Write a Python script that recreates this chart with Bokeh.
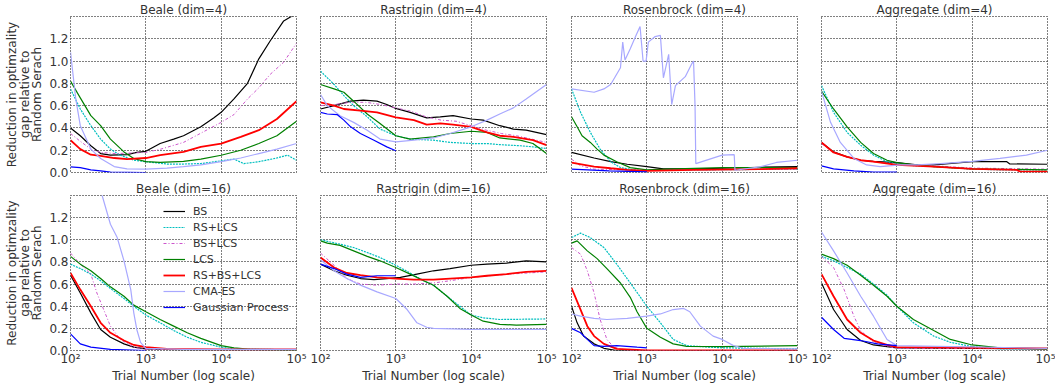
from bokeh.plotting import figure
from bokeh.layouts import column, row
from bokeh.models import FixedTicker, Legend, LegendItem, Range1d, PrintfTickFormatter
from bokeh.embed import file_html
from bokeh.resources import INLINE

# ---------------- data (x given as log10 of trial number) ----------------
SERIES = ["BS", "RS+LCS", "BS+LCS", "LCS", "RS+BS+LCS", "CMA-ES", "Gaussian Process"]
XTICKS = [100, 1000, 10000, 100000]
XTICK_LABELS = ["10²", "10³", "10⁴", "10⁵"]
YTICKS = [0.0, 0.2, 0.4, 0.6, 0.8, 1.0, 1.2]
TITLES = ["Beale (dim=4)", "Rastrigin (dim=4)", "Rosenbrock (dim=4)", "Aggregate (dim=4)",
          "Beale (dim=16)", "Rastrigin (dim=16)", "Rosenbrock (dim=16)", "Aggregate (dim=16)"]

beale4 = {
    "BS": ([2.0, 2.13, 2.27, 2.4, 2.53, 2.75, 2.88, 3.0, 3.19, 3.37, 3.5, 3.73, 3.9, 4.0, 4.17, 4.35, 4.5, 4.65, 4.83, 4.93, 5.0],
           [0.40, 0.33, 0.24, 0.17, 0.156, 0.16, 0.18, 0.19, 0.26, 0.30, 0.33, 0.41, 0.49, 0.54, 0.66, 0.80, 1.02, 1.18, 1.36, 1.40, 1.42]),
    "RS+LCS": ([2.0, 2.13, 2.27, 2.4, 2.53, 2.66, 2.84, 3.0, 3.28, 3.5, 3.73, 4.0, 4.17, 4.3, 4.5, 4.74, 4.88, 5.0],
               [0.75, 0.57, 0.42, 0.30, 0.21, 0.156, 0.11, 0.097, 0.076, 0.076, 0.08, 0.105, 0.12, 0.08, 0.097, 0.13, 0.156, 0.11]),
    "BS+LCS": ([2.0, 2.13, 2.27, 2.4, 2.6, 2.8, 3.0, 3.2, 3.5, 3.75, 4.0, 4.17, 4.35, 4.5, 4.65, 4.83, 5.0],
               [0.35, 0.28, 0.21, 0.18, 0.17, 0.175, 0.18, 0.21, 0.27, 0.36, 0.45, 0.52, 0.66, 0.76, 0.88, 0.99, 1.16]),
    "LCS": ([2.0, 2.13, 2.27, 2.4, 2.53, 2.71, 2.84, 3.0, 3.19, 3.5, 3.73, 4.0, 4.26, 4.5, 4.74, 5.0],
            [0.82, 0.67, 0.51, 0.42, 0.30, 0.185, 0.126, 0.097, 0.09, 0.10, 0.12, 0.155, 0.20, 0.26, 0.33, 0.46]),
    "RS+BS+LCS": ([2.0, 2.13, 2.27, 2.4, 2.58, 2.75, 3.0, 3.19, 3.5, 3.73, 4.0, 4.26, 4.5, 4.74, 5.0],
                  [0.29, 0.21, 0.16, 0.15, 0.13, 0.12, 0.13, 0.155, 0.185, 0.23, 0.26, 0.32, 0.38, 0.48, 0.64]),
    "CMA-ES": ([2.0, 2.07, 2.13, 2.27, 2.4, 2.58, 2.75, 3.0, 3.28, 3.5, 3.73, 4.0, 4.26, 4.5, 4.74, 5.0],
               [1.08, 0.66, 0.42, 0.21, 0.126, 0.053, 0.032, 0.03, 0.04, 0.053, 0.068, 0.097, 0.13, 0.17, 0.21, 0.26]),
    "Gaussian Process": ([2.0, 2.13, 2.27, 2.4, 2.53, 3.0],
                         [0.05, 0.044, 0.024, 0.015, 0.003, 0.0]),
}

rastrigin4 = {
    "BS": ([2.0, 2.18, 2.4, 2.57, 2.75, 2.88, 3.0, 3.19, 3.41, 3.59, 3.76, 4.0, 4.16, 4.38, 4.56, 4.73, 5.0],
           [0.57, 0.60, 0.64, 0.65, 0.64, 0.61, 0.575, 0.54, 0.49, 0.50, 0.51, 0.48, 0.47, 0.42, 0.39, 0.38, 0.34]),
    "RS+LCS": ([2.0, 2.18, 2.31, 2.44, 2.62, 2.79, 3.0, 3.19, 3.5, 3.72, 4.0, 4.21, 4.38, 4.65, 4.82, 5.0],
               [0.91, 0.79, 0.69, 0.60, 0.50, 0.39, 0.33, 0.30, 0.29, 0.27, 0.26, 0.26, 0.25, 0.24, 0.23, 0.215]),
    "BS+LCS": ([2.0, 2.18, 2.4, 2.6, 2.8, 3.0, 3.2, 3.4, 3.6, 3.8, 4.0, 4.2, 4.4, 4.6, 4.8, 5.0],
               [0.60, 0.61, 0.63, 0.63, 0.61, 0.58, 0.55, 0.50, 0.47, 0.46, 0.42, 0.38, 0.35, 0.33, 0.30, 0.27]),
    "LCS": ([2.0, 2.18, 2.31, 2.44, 2.62, 2.79, 3.0, 3.19, 3.5, 3.72, 4.0, 4.21, 4.38, 4.65, 4.82, 5.0],
            [0.79, 0.75, 0.72, 0.64, 0.525, 0.44, 0.33, 0.30, 0.32, 0.35, 0.37, 0.36, 0.31, 0.29, 0.26, 0.17]),
    "RS+BS+LCS": ([2.0, 2.18, 2.31, 2.53, 2.75, 3.0, 3.24, 3.41, 3.59, 3.76, 4.0, 4.21, 4.38, 4.56, 4.82, 5.0],
                  [0.63, 0.60, 0.57, 0.555, 0.54, 0.495, 0.47, 0.43, 0.44, 0.43, 0.41, 0.36, 0.33, 0.32, 0.29, 0.245]),
    "CMA-ES": ([2.0, 2.09, 2.26, 2.44, 2.62, 2.79, 3.0, 3.24, 3.5, 3.72, 4.0, 4.21, 4.38, 4.56, 4.73, 5.0],
               [0.70, 0.60, 0.51, 0.45, 0.38, 0.30, 0.275, 0.29, 0.31, 0.35, 0.41, 0.47, 0.525, 0.58, 0.66, 0.79]),
    "Gaussian Process": ([2.0, 2.09, 2.22, 2.31, 2.4, 2.53, 2.71, 2.88, 3.0],
                         [0.54, 0.525, 0.52, 0.47, 0.41, 0.35, 0.29, 0.23, 0.195]),
}

rosenbrock4 = {
    "BS": ([2.0, 2.3, 2.52, 2.74, 3.0, 3.22, 3.62, 4.0, 4.5, 5.0],
           [0.18, 0.13, 0.097, 0.074, 0.053, 0.032, 0.032, 0.038, 0.047, 0.053]),
    "RS+LCS": ([2.0, 2.12, 2.25, 2.38, 2.52, 2.65, 2.82, 3.0, 4.0, 5.0],
               [0.75, 0.54, 0.36, 0.21, 0.097, 0.044, 0.024, 0.018, 0.025, 0.03]),
    "BS+LCS": ([2.0, 2.12, 2.3, 3.0, 4.0, 5.0],
               [0.12, 0.06, 0.03, 0.02, 0.025, 0.03]),
    "LCS": ([2.0, 2.075, 2.14, 2.25, 2.34, 2.43, 2.6, 2.78, 3.0, 3.27, 4.0, 5.0],
            [0.50, 0.41, 0.33, 0.27, 0.21, 0.156, 0.097, 0.044, 0.024, 0.03, 0.044, 0.044]),
    "RS+BS+LCS": ([2.0, 2.3, 2.52, 2.74, 3.0, 3.62, 4.5, 5.0],
                  [0.088, 0.053, 0.038, 0.024, 0.015, 0.024, 0.03, 0.038]),
    "CMA-ES": ([2.0, 2.3, 2.43, 2.52, 2.65, 2.68, 2.71, 2.78, 2.85, 2.91, 2.95, 2.99, 3.02, 3.11, 3.18, 3.22,
                3.29, 3.33, 3.38, 3.51, 3.6, 3.62, 3.64, 3.65, 4.0, 4.16, 4.17, 4.5, 4.72, 5.0],
               [0.75, 0.72, 0.75, 0.79, 0.94, 1.17, 1.01, 1.11, 1.22, 1.31, 1.0, 1.0, 1.17, 1.22, 1.23, 0.85,
                1.06, 0.61, 0.78, 0.86, 0.98, 1.0, 0.60, 0.08, 0.156, 0.16, 0.02, 0.05, 0.09, 0.11]),
    "Gaussian Process": ([2.0, 2.5, 3.0],
                         [0.03, 0.015, 0.005]),
}

aggregate4 = {
    "BS": ([2.0, 2.16, 2.34, 2.52, 2.69, 3.0, 3.27, 3.49, 4.0, 4.46, 4.5, 5.0],
           [0.27, 0.185, 0.14, 0.11, 0.10, 0.088, 0.068, 0.068, 0.097, 0.097, 0.077, 0.074]),
    "RS+LCS": ([2.0, 2.16, 2.34, 2.52, 2.69, 2.87, 3.0, 3.22, 3.49, 3.71, 4.0, 4.37, 5.0],
               [0.78, 0.54, 0.36, 0.245, 0.156, 0.097, 0.077, 0.062, 0.053, 0.044, 0.03, 0.024, 0.024]),
    "BS+LCS": ([2.0, 2.16, 2.34, 2.52, 2.69, 3.0, 3.5, 4.0, 4.5, 5.0],
               [0.26, 0.18, 0.14, 0.11, 0.095, 0.075, 0.06, 0.04, 0.035, 0.03]),
    "LCS": ([2.0, 2.16, 2.34, 2.52, 2.69, 2.87, 3.0, 3.22, 3.49, 4.0, 5.0],
            [0.73, 0.57, 0.41, 0.27, 0.17, 0.11, 0.088, 0.068, 0.053, 0.032, 0.024]),
    "RS+BS+LCS": ([2.0, 2.16, 2.34, 2.52, 2.69, 3.0, 3.49, 4.0, 4.59, 4.64, 5.0],
                  [0.27, 0.18, 0.14, 0.11, 0.097, 0.068, 0.053, 0.032, 0.024, 0.008, 0.008]),
    "CMA-ES": ([2.0, 2.12, 2.25, 2.43, 2.6, 2.78, 3.05, 3.27, 3.58, 4.0, 4.37, 4.72, 5.0],
               [0.73, 0.45, 0.27, 0.126, 0.068, 0.053, 0.068, 0.068, 0.08, 0.10, 0.126, 0.156, 0.20]),
    "Gaussian Process": ([2.0, 2.16, 2.43, 2.69, 3.0],
                         [0.06, 0.032, 0.015, 0.003, 0.003]),
}

beale16 = {
    "BS": ([2.0, 2.13, 2.27, 2.4, 2.53, 2.71, 2.84, 3.0, 3.5, 5.0],
           [0.68, 0.52, 0.34, 0.19, 0.12, 0.06, 0.03, 0.015, 0.005, 0.005]),
    "RS+LCS": ([2.0, 2.13, 2.27, 2.4, 2.53, 2.71, 2.84, 3.0, 3.19, 3.37, 3.55, 3.73, 4.0, 4.17, 5.0],
               [0.78, 0.74, 0.69, 0.63, 0.56, 0.47, 0.40, 0.32, 0.25, 0.18, 0.12, 0.074, 0.03, 0.015, 0.006]),
    "BS+LCS": ([2.0, 2.13, 2.27, 2.35, 2.44, 2.53, 2.66, 2.84, 3.0, 5.0],
               [0.88, 0.78, 0.69, 0.52, 0.37, 0.22, 0.10, 0.03, 0.01, 0.005]),
    "LCS": ([2.0, 2.13, 2.27, 2.4, 2.53, 2.71, 2.84, 3.0, 3.19, 3.37, 3.55, 3.73, 4.0, 4.17, 4.39, 5.0],
            [0.85, 0.78, 0.72, 0.65, 0.575, 0.49, 0.41, 0.35, 0.28, 0.22, 0.16, 0.11, 0.044, 0.024, 0.01, 0.006]),
    "RS+BS+LCS": ([2.0, 2.13, 2.27, 2.4, 2.53, 2.71, 2.84, 3.0, 3.28, 4.0, 5.0],
                  [0.70, 0.55, 0.40, 0.25, 0.16, 0.09, 0.05, 0.03, 0.015, 0.01, 0.01]),
    "CMA-ES": ([2.0, 2.2, 2.35, 2.42, 2.53, 2.62, 2.71, 2.8, 2.84, 2.88, 2.93, 3.0, 3.5, 5.0],
               [2.6, 2.1, 1.65, 1.40, 1.14, 1.02, 0.81, 0.55, 0.34, 0.19, 0.074, 0.02, 0.01, 0.01]),
    "Gaussian Process": ([2.0, 2.13, 2.27, 2.53, 3.0],
                         [0.15, 0.06, 0.03, 0.01, 0.0]),
}

rastrigin16 = {
    "BS": ([2.0, 2.18, 2.35, 2.53, 2.71, 2.88, 3.06, 3.28, 3.5, 3.72, 4.0, 4.21, 4.47, 4.73, 5.0],
           [0.78, 0.72, 0.68, 0.65, 0.64, 0.65, 0.66, 0.69, 0.72, 0.74, 0.77, 0.78, 0.79, 0.81, 0.80]),
    "RS+LCS": ([2.0, 2.26, 2.44, 2.62, 2.79, 3.0, 3.19, 3.37, 3.5, 3.68, 3.85, 4.0, 4.16, 4.38, 5.0],
               [1.0, 0.96, 0.93, 0.885, 0.84, 0.77, 0.70, 0.63, 0.59, 0.49, 0.40, 0.32, 0.295, 0.28, 0.285]),
    "BS+LCS": ([2.0, 2.18, 2.35, 2.53, 2.75, 3.0, 3.24, 3.5, 3.72, 4.0, 4.5, 5.0],
               [0.88, 0.77, 0.65, 0.60, 0.59, 0.60, 0.60, 0.61, 0.63, 0.66, 0.69, 0.71]),
    "LCS": ([2.0, 2.09, 2.26, 2.44, 2.62, 2.79, 3.0, 3.19, 3.37, 3.5, 3.68, 3.85, 4.0, 4.16, 4.38, 4.6, 5.0],
            [0.99, 0.97, 0.95, 0.90, 0.85, 0.81, 0.75, 0.69, 0.63, 0.59, 0.49, 0.38, 0.32, 0.265, 0.236, 0.23, 0.236]),
    "RS+BS+LCS": ([2.0, 2.18, 2.35, 2.53, 2.75, 3.0, 3.24, 3.5, 3.72, 4.0, 4.21, 4.47, 4.73, 5.0],
                  [0.84, 0.75, 0.70, 0.68, 0.66, 0.65, 0.64, 0.64, 0.65, 0.66, 0.675, 0.69, 0.71, 0.72]),
    "CMA-ES": ([2.0, 2.18, 2.35, 2.53, 2.75, 3.0, 3.15, 3.28, 3.41, 3.5, 4.0, 5.0],
               [0.82, 0.72, 0.65, 0.59, 0.53, 0.47, 0.37, 0.25, 0.21, 0.20, 0.19, 0.19]),
    "Gaussian Process": ([2.0, 2.18, 2.35, 2.53, 2.75, 3.0],
                         [0.78, 0.74, 0.69, 0.66, 0.675, 0.675]),
}

rosenbrock16 = {
    "BS": ([2.0, 2.075, 2.16, 2.3, 2.43, 2.6, 5.0],
           [0.40, 0.25, 0.13, 0.06, 0.02, 0.0, 0.0]),
    "RS+LCS": ([2.0, 2.12, 2.25, 2.43, 2.6, 2.78, 3.0, 3.18, 3.35, 3.53, 3.84, 4.0, 5.0],
               [1.02, 1.06, 1.02, 0.93, 0.78, 0.61, 0.40, 0.25, 0.10, 0.044, 0.03, 0.024, 0.015]),
    "BS+LCS": ([2.0, 2.12, 2.21, 2.3, 2.38, 2.47, 2.56, 2.74, 5.0],
               [0.93, 0.87, 0.72, 0.52, 0.28, 0.10, 0.03, 0.0, 0.0]),
    "LCS": ([2.0, 2.075, 2.21, 2.34, 2.47, 2.65, 2.78, 2.87, 3.0, 3.18, 3.35, 3.53, 4.0, 5.0],
            [0.97, 0.99, 0.90, 0.83, 0.74, 0.61, 0.48, 0.35, 0.20, 0.12, 0.06, 0.038, 0.035, 0.044]),
    "RS+BS+LCS": ([2.0, 2.12, 2.21, 2.3, 2.43, 2.6, 3.0, 5.0],
                  [0.565, 0.37, 0.22, 0.13, 0.06, 0.015, 0.0, 0.0]),
    "CMA-ES": ([2.0, 2.12, 2.3, 2.47, 2.74, 3.0, 3.18, 3.35, 3.49, 3.57, 3.71, 3.88, 4.0, 4.15, 4.28, 5.0],
               [0.33, 0.31, 0.29, 0.28, 0.29, 0.31, 0.33, 0.37, 0.38, 0.35, 0.22, 0.13, 0.10, 0.044, 0.02, 0.015]),
    "Gaussian Process": ([2.0, 2.12, 2.21, 2.3, 2.43, 2.6, 2.87, 3.0],
                         [0.20, 0.16, 0.10, 0.044, 0.038, 0.044, 0.03, 0.024]),
}

aggregate16 = {
    "BS": ([2.0, 2.16, 2.34, 2.52, 2.69, 2.87, 3.0, 5.0],
           [0.61, 0.37, 0.19, 0.09, 0.05, 0.035, 0.024, 0.015]),
    "RS+LCS": ([2.0, 2.16, 2.34, 2.52, 2.69, 2.87, 3.0, 3.22, 3.49, 3.71, 4.0, 4.37, 5.0],
               [0.85, 0.81, 0.75, 0.69, 0.60, 0.50, 0.40, 0.25, 0.13, 0.074, 0.035, 0.015, 0.015]),
    "BS+LCS": ([2.0, 2.16, 2.3, 2.43, 2.52, 2.69, 2.87, 3.0, 5.0],
               [0.85, 0.75, 0.55, 0.31, 0.18, 0.074, 0.038, 0.02, 0.015]),
    "LCS": ([2.0, 2.16, 2.34, 2.52, 2.69, 2.87, 3.0, 3.22, 3.49, 3.71, 4.0, 4.37, 5.0],
            [0.87, 0.83, 0.77, 0.68, 0.59, 0.49, 0.40, 0.28, 0.18, 0.10, 0.05, 0.024, 0.015]),
    "RS+BS+LCS": ([2.0, 2.16, 2.34, 2.52, 2.69, 2.87, 3.0, 5.0],
                  [0.69, 0.49, 0.28, 0.16, 0.09, 0.05, 0.03, 0.02]),
    "CMA-ES": ([2.0, 2.16, 2.34, 2.52, 2.69, 2.87, 3.0, 5.0],
               [1.07, 0.90, 0.70, 0.49, 0.31, 0.10, 0.044, 0.02]),
    "Gaussian Process": ([2.0, 2.16, 2.3, 2.52, 2.74, 3.0],
                         [0.30, 0.19, 0.11, 0.09, 0.06, 0.044]),
}

PANELS = [beale4, rastrigin4, rosenbrock4, aggregate4,
          beale16, rastrigin16, rosenbrock16, aggregate16]

# ---------------- styling ----------------
FONT = "DejaVu Sans"
TXT = "#333333"
STYLE = {
    "BS": dict(color="#000000", line_width=1.2, line_dash="solid"),
    "RS+LCS": dict(color="#00bfbf", line_width=1.2, line_dash="2 1"),
    "BS+LCS": dict(color="#cc55cc", line_width=1.0, line_dash="3 2 1 2"),
    "LCS": dict(color="#008000", line_width=1.2, line_dash="solid"),
    "RS+BS+LCS": dict(color="#ff0000", line_width=1.8, line_dash="solid"),
    "CMA-ES": dict(color="#a8a8ff", line_width=1.2, line_dash="solid"),
    "Gaussian Process": dict(color="#0000ff", line_width=1.2, line_dash="solid"),
}

BORDER_L = [70, 12, 13, 12]
BORDER_R = [12, 12, 12, 8]
FRAME_W = 226
TOP_T, TOP_FRAME, TOP_B = 15, 157, 7
TOP_H = TOP_T + TOP_FRAME + TOP_B
BOT_T, BOT_B = 14, 34
BOT_H = 385 - TOP_H
YLABEL = "Reduction in optimzality\ngap relative to\nRandom Serach"


def make_panel(idx):
    r, c = divmod(idx, 4)
    w = BORDER_L[c] + FRAME_W + BORDER_R[c]
    h = TOP_H if r == 0 else BOT_H
    p = figure(width=w, height=h, x_axis_type="log",
               x_range=Range1d(100, 100000), y_range=Range1d(0, 1.4),
               output_backend="svg", toolbar_location=None,
               min_border_left=BORDER_L[c], min_border_right=BORDER_R[c],
               min_border_top=TOP_T if r == 0 else BOT_T,
               min_border_bottom=TOP_B if r == 0 else BOT_B)
    p.title.text = TITLES[idx]
    p.title.align = "center"
    p.title.text_font = FONT
    p.title.text_font_size = "12px"
    p.title.text_font_style = "normal"
    p.title.text_color = TXT
    p.title.standoff = 0
    p.title.offset = 0

    p.background_fill_color = "white"
    p.border_fill_color = "white"
    p.outline_line_color = "black"
    p.outline_line_dash = "1 2"
    p.outline_line_width = 1

    p.xgrid.ticker = FixedTicker(ticks=XTICKS[1:-1])
    p.ygrid.ticker = FixedTicker(ticks=YTICKS[1:])
    for g in (p.xgrid, p.ygrid):
        g.grid_line_color = "black"
        g.grid_line_dash = "1 2"
        g.grid_line_width = 1
        g.grid_line_alpha = 1.0

    p.xaxis.ticker = FixedTicker(ticks=XTICKS)
    p.xaxis.major_label_overrides = {t: lab for t, lab in zip(XTICKS, XTICK_LABELS)}
    p.yaxis.ticker = FixedTicker(ticks=YTICKS)
    p.yaxis.formatter = PrintfTickFormatter(format="%.1f")
    p.xaxis.minor_tick_line_color = None
    p.yaxis.minor_tick_line_color = None
    for ax in (p.xaxis[0], p.yaxis[0]):
        ax.axis_line_color = None
        ax.major_tick_line_color = None
        ax.major_tick_out = 0
        ax.major_tick_in = 0
        ax.major_label_text_font = FONT
        ax.major_label_text_font_size = "12px"
        ax.major_label_text_color = TXT
        ax.axis_label_text_font = FONT
        ax.axis_label_text_font_size = "12px"
        ax.axis_label_text_font_style = "normal"
        ax.axis_label_text_color = TXT
        ax.major_label_standoff = 1
        ax.axis_label_standoff = 0
    if r == 1:
        p.xaxis.axis_label = "Trial Number (log scale)"
    else:
        p.xaxis.visible = False
    if c == 0:
        p.yaxis.axis_label = YLABEL
        p.yaxis.axis_label_text_line_height = 0.9
        p.yaxis.major_label_standoff = 2
        p.yaxis.axis_label_standoff = 2
    else:
        p.yaxis.visible = False

    data = PANELS[idx]
    renderers = {}
    for name in SERIES:
        ex, vals = data[name]
        xs = [10 ** e for e in ex]
        renderers[name] = p.line(xs, vals, **STYLE[name])

    if idx == 4:
        legend = Legend(items=[LegendItem(label=n, renderers=[renderers[n]]) for n in SERIES],
                        location=(93, 36), padding=0, margin=0, spacing=2,
                        glyph_width=22, glyph_height=14, label_height=14,
                        label_standoff=8, label_text_font=FONT,
                        label_text_font_size="11px", label_text_color=TXT,
                        background_fill_alpha=0, border_line_alpha=0)
        p.add_layout(legend)
    return p


figs = [make_panel(i) for i in range(8)]
layout = column(row(*figs[:4]), row(*figs[4:]))

open("out.html", "w").write(file_html(layout, INLINE))
